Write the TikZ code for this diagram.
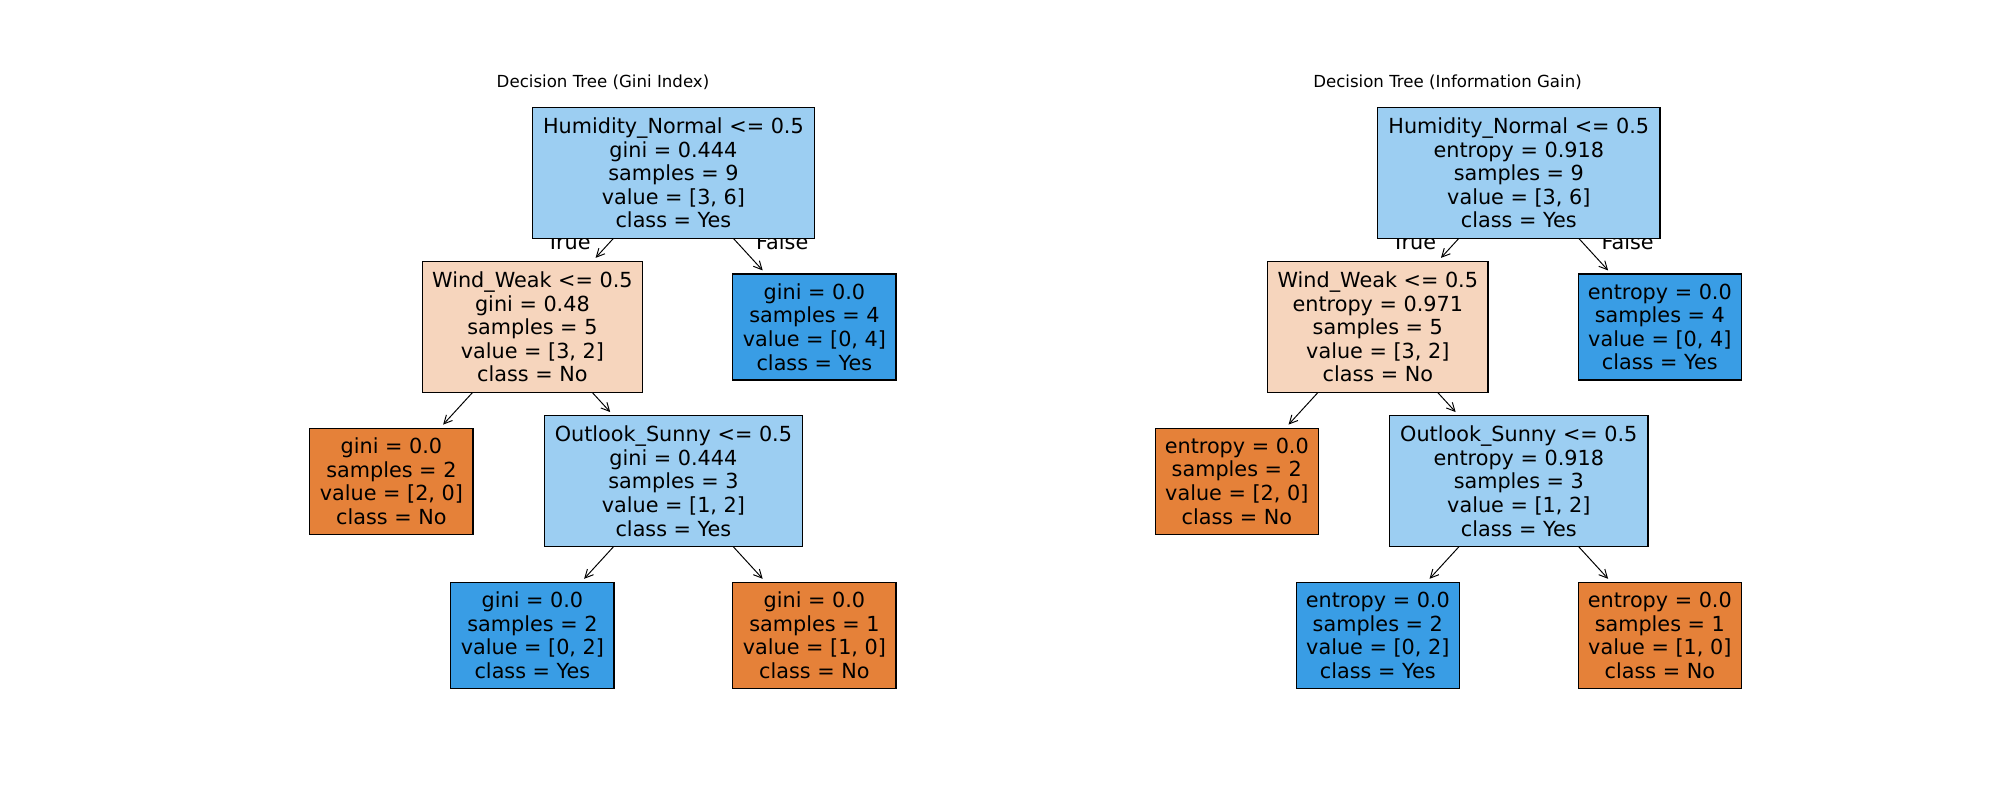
\documentclass[tikz,border=0pt]{standalone}
\usepackage{fontspec}
\setmainfont{DejaVu Sans}
\usetikzlibrary{arrows.meta}
\definecolor{yeslight}{HTML}{9CCEF2}
\definecolor{yesfull}{HTML}{399DE5}
\definecolor{nolight}{HTML}{F6D5BD}
\definecolor{nofull}{HTML}{E58139}

\begin{document}
\begin{tikzpicture}[x=0.01in, y=-0.01in,
  treenode/.style={draw=black, line width=0.9pt, rectangle, align=center,
    inner sep=0pt, outer sep=0pt, font=\fontsize{15}{17}\selectfont},
  splitbox/.style={treenode, minimum height=94.7pt},
  leafbox/.style={treenode, minimum width=117.8pt, minimum height=76.6pt},
  edge/.style={-{Straight Barb[length=6pt,width=6pt]}, line width=0.7pt, shorten >=3.5pt},
  branchlabel/.style={font=\fontsize{15}{17}\selectfont, inner sep=0pt},
  paneltitle/.style={font=\fontsize{12}{14}\selectfont, anchor=base, inner sep=0pt}
]
\useasboundingbox[fill=white] (0,0) rectangle (2000,800);

% ---------- Gini tree ----------
\node[paneltitle] (gtitle) at (603,87.5) {Decision Tree (Gini Index)};
\begin{scope}[shift={(673.4,0)}]
  \node[branchlabel, anchor=base east] (gtrue) at (-82.5,250) {True};
  \node[branchlabel, anchor=base west] (gfalse) at (82.5,250) {False};
  \node[splitbox, fill=yeslight, minimum width=203.9pt] (groot) at (0,172.8)
    {Humidity\_Normal <= 0.5\\gini = 0.444\\samples = 9\\value = [3, 6]\\class = Yes};
  \node[splitbox, fill=nolight, minimum width=159.2pt] (gwind) at (-141,327)
    {Wind\_Weak <= 0.5\\gini = 0.48\\samples = 5\\value = [3, 2]\\class = No};
  \node[leafbox, fill=yesfull] (gr1) at (141,327)
    {gini = 0.0\\samples = 4\\value = [0, 4]\\class = Yes};
  \node[leafbox, fill=nofull] (gl2) at (-282,481.2)
    {gini = 0.0\\samples = 2\\value = [2, 0]\\class = No};
  \node[splitbox, fill=yeslight, minimum width=186.1pt] (gout) at (0,481.2)
    {Outlook\_Sunny <= 0.5\\gini = 0.444\\samples = 3\\value = [1, 2]\\class = Yes};
  \node[leafbox, fill=yesfull] (gb1) at (-141,635.4)
    {gini = 0.0\\samples = 2\\value = [0, 2]\\class = Yes};
  \node[leafbox, fill=nofull] (gb2) at (141,635.4)
    {gini = 0.0\\samples = 1\\value = [1, 0]\\class = No};
  \draw[edge] (groot) -- (gwind);
  \draw[edge] (groot) -- (gr1);
  \draw[edge] (gwind) -- (gl2);
  \draw[edge] (gwind) -- (gout);
  \draw[edge] (gout) -- (gb1);
  \draw[edge] (gout) -- (gb2);
\end{scope}

% ---------- Entropy tree ----------
\node[paneltitle] (etitle) at (1447.5,87.5) {Decision Tree (Information Gain)};
\begin{scope}[shift={(1518.8,0)}]
  \node[branchlabel, anchor=base east] (etrue) at (-82.5,250) {True};
  \node[branchlabel, anchor=base west] (efalse) at (82.5,250) {False};
  \node[splitbox, fill=yeslight, minimum width=203.9pt] (eroot) at (0,172.8)
    {Humidity\_Normal <= 0.5\\entropy = 0.918\\samples = 9\\value = [3, 6]\\class = Yes};
  \node[splitbox, fill=nolight, minimum width=159.2pt] (ewind) at (-141,327)
    {Wind\_Weak <= 0.5\\entropy = 0.971\\samples = 5\\value = [3, 2]\\class = No};
  \node[leafbox, fill=yesfull] (er1) at (141,327)
    {entropy = 0.0\\samples = 4\\value = [0, 4]\\class = Yes};
  \node[leafbox, fill=nofull] (el2) at (-282,481.2)
    {entropy = 0.0\\samples = 2\\value = [2, 0]\\class = No};
  \node[splitbox, fill=yeslight, minimum width=186.7pt] (eout) at (0,481.2)
    {Outlook\_Sunny <= 0.5\\entropy = 0.918\\samples = 3\\value = [1, 2]\\class = Yes};
  \node[leafbox, fill=yesfull] (eb1) at (-141,635.4)
    {entropy = 0.0\\samples = 2\\value = [0, 2]\\class = Yes};
  \node[leafbox, fill=nofull] (eb2) at (141,635.4)
    {entropy = 0.0\\samples = 1\\value = [1, 0]\\class = No};
  \draw[edge] (eroot) -- (ewind);
  \draw[edge] (eroot) -- (er1);
  \draw[edge] (ewind) -- (el2);
  \draw[edge] (ewind) -- (eout);
  \draw[edge] (eout) -- (eb1);
  \draw[edge] (eout) -- (eb2);
\end{scope}
\end{tikzpicture}
\end{document}
